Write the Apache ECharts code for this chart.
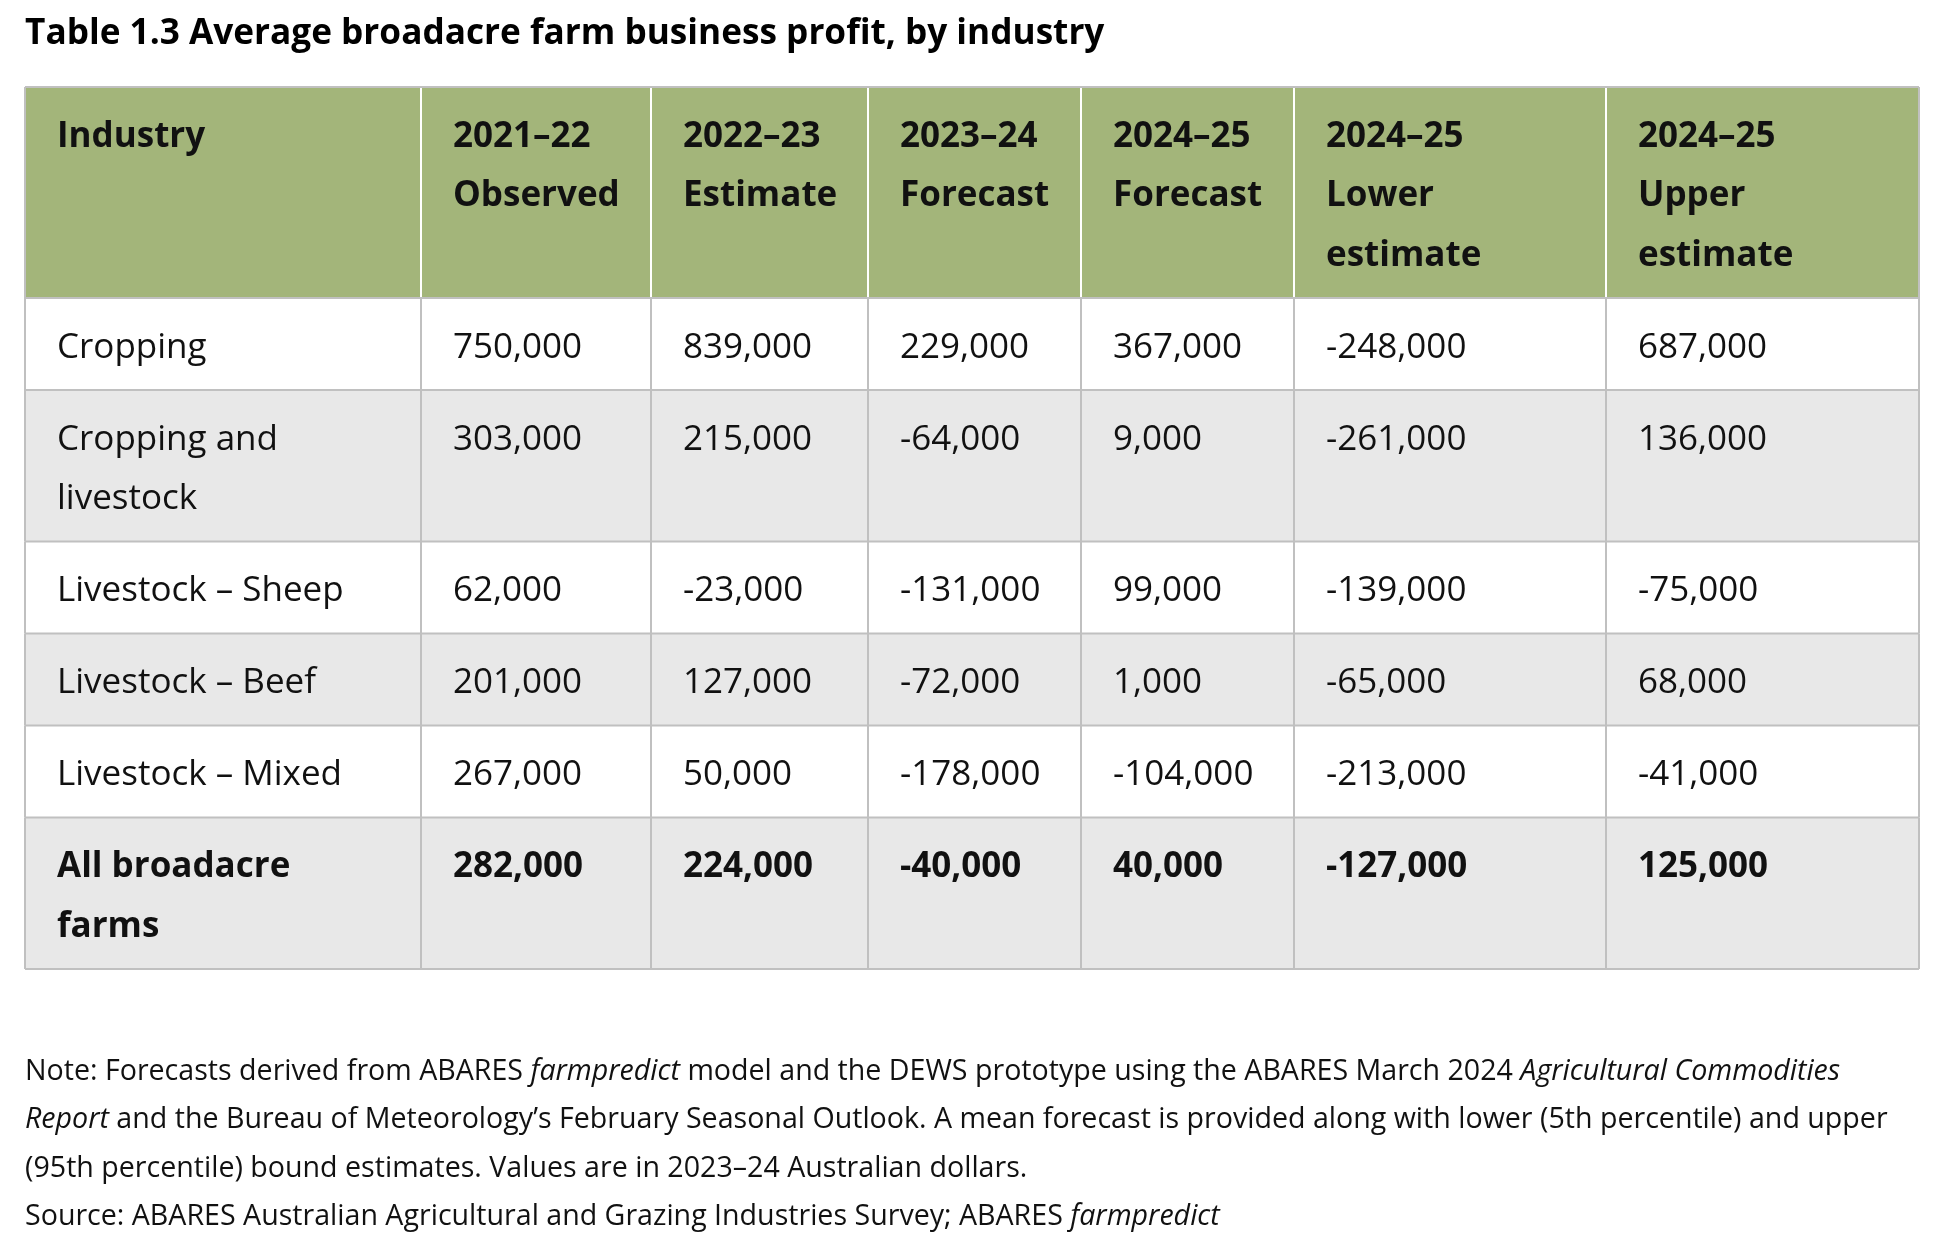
<!DOCTYPE html>
<html><head><meta charset="utf-8">
<script src="https://cdn.jsdelivr.net/npm/echarts@6/dist/echarts.min.js"></script>
<style>html,body{margin:0;padding:0;background:#fff}#c{width:1948px;height:1242px}</style>
</head><body><div id="c"></div>
<script>
// ---- data ----
const tableTitle = 'Table 1.3 Average broadacre farm business profit, by industry';
const headers = ['Industry', '2021–22\nObserved', '2022–23\nEstimate', '2023–24\nForecast', '2024–25\nForecast', '2024–25\nLower\nestimate', '2024–25\nUpper\nestimate'];
const industries = ['Cropping', 'Cropping and\nlivestock', 'Livestock – Sheep', 'Livestock – Beef', 'Livestock – Mixed', 'All broadacre\nfarms'];
const observed2122 = [750000, 303000, 62000, 201000, 267000, 282000];
const estimate2223 = [839000, 215000, -23000, 127000, 50000, 224000];
const forecast2324 = [229000, -64000, -131000, -72000, -178000, -40000];
const forecast2425 = [367000, 9000, 99000, 1000, -104000, 40000];
const lower2425 = [-248000, -261000, -139000, -65000, -213000, -127000];
const upper2425 = [687000, 136000, -75000, 68000, -41000, 125000];
const noteLines = [
  '{n|Note: Forecasts derived from ABARES }{i|farmpredict}{n| model and the DEWS prototype using the ABARES March 2024 }{i|Agricultural Commodities}',
  '{i|Report}{n| and the Bureau of Meteorology’s February Seasonal Outlook. A mean forecast is provided along with lower (5th percentile) and upper}',
  '{n|(95th percentile) bound estimates. Values are in 2023–24 Australian dollars.}',
  '{n|Source: ABARES Australian Agricultural and Grazing Industries Survey; ABARES }{i|farmpredict}'
];

// ---- layout / style ----
const FONT = "'Open Sans', 'Noto Sans', sans-serif";
const GREEN = '#A3B57A', GREY = '#E8E8E8', BORDER = '#C0C0C0', TEXT = '#111111';
const colEdges = [25, 421, 651, 868, 1081, 1294, 1606, 1919];
const tableTop = 87, LINE_H = 59.5, ROW_PAD = 32.5, TEXT_PAD_X = 32, TEXT_PAD_Y = 20;
const FS = 35;

const valueCols = [observed2122, estimate2223, forecast2324, forecast2425, lower2425, upper2425];
const nLines = s => String(s).split('\n').length;
const rowLines = [Math.max(...headers.map(nLines))].concat(industries.map(nLines));
const rowEdges = [tableTop];
rowLines.forEach(n => rowEdges.push(rowEdges[rowEdges.length - 1] + n * LINE_H + ROW_PAD));
const nRows = rowLines.length, nCols = headers.length;

function cellText(c, r) {
  if (r === 0) return headers[c];
  if (c === 0) return industries[r - 1];
  return valueCols[c - 1][r - 1].toLocaleString('en-US');
}

const cells = [];
for (let r = 0; r < nRows; r++) for (let c = 0; c < nCols; c++) cells.push([c, r]);

function renderItem(params, api) {
  const c = api.value(0), r = api.value(1);
  const p0 = api.coord([colEdges[c], rowEdges[r]]);
  const p1 = api.coord([colEdges[c + 1], rowEdges[r + 1]]);
  const isHeader = r === 0, isTotal = r === nRows - 1;
  const fill = isHeader ? GREEN : (r % 2 === 0 ? GREY : '#FFFFFF');
  const kids = [{
    type: 'rect', z2: 0,
    shape: { x: p0[0], y: p0[1], width: p1[0] - p0[0], height: p1[1] - p0[1] },
    style: { fill: fill }
  }];
  const rightColor = (isHeader && c < nCols - 1) ? '#FFFFFF' : BORDER;
  kids.push({ type: 'line', z2: isHeader ? 1 : 2, shape: { x1: p1[0], y1: p0[1], x2: p1[0], y2: p1[1] }, style: { stroke: rightColor, lineWidth: 2 } });
  kids.push({ type: 'line', z2: 3, shape: { x1: p0[0], y1: p1[1], x2: p1[0], y2: p1[1] }, style: { stroke: BORDER, lineWidth: 2 } });
  if (c === 0) kids.push({ type: 'line', z2: 3, shape: { x1: p0[0], y1: p0[1], x2: p0[0], y2: p1[1] }, style: { stroke: BORDER, lineWidth: 2 } });
  if (r === 0) kids.push({ type: 'line', z2: 3, shape: { x1: p0[0], y1: p0[1], x2: p1[0], y2: p0[1] }, style: { stroke: BORDER, lineWidth: 2 } });
  kids.push({
    type: 'text', z2: 4, x: p0[0] + TEXT_PAD_X, y: p0[1] + TEXT_PAD_Y,
    style: {
      text: cellText(c, r), fill: TEXT, fontFamily: FONT, fontSize: FS,
      fontWeight: (isHeader || isTotal) ? 'bold' : 'normal',
      lineHeight: LINE_H, verticalAlign: 'top', align: 'left'
    }
  });
  return { type: 'group', children: kids };
}

const chart = echarts.init(document.getElementById('c'), null, { renderer: 'canvas' });
chart.setOption({
  backgroundColor: '#ffffff',
  animation: false,
  title: {
    text: tableTitle, left: 25, top: 14, padding: 0,
    textStyle: { fontFamily: FONT, fontSize: 35.2, fontWeight: 'bold', color: '#000000', lineHeight: 40 }
  },
  grid: { left: 0, right: 0, top: 0, bottom: 0 },
  xAxis: { type: 'value', min: 0, max: 1948, show: false },
  yAxis: { type: 'value', min: 0, max: 1242, inverse: true, show: false },
  series: [{
    type: 'custom', data: cells, renderItem: renderItem, silent: true
  }],
  graphic: [{
    type: 'text', left: 25, top: 1057, silent: true,
    style: {
      text: noteLines.join('\n'), fill: TEXT,
      rich: {
        n: { fontFamily: FONT, fontSize: 28.6, lineHeight: 48.5, fill: TEXT },
        i: { fontFamily: FONT, fontSize: 28.6, lineHeight: 48.5, fontStyle: 'italic', fill: TEXT }
      }
    }
  }]
});
</script></body></html>
